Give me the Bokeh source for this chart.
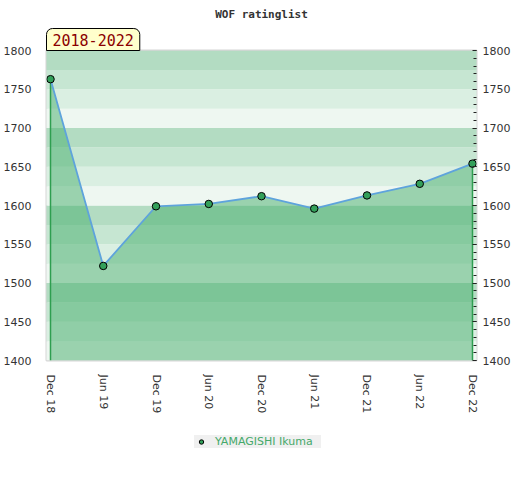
from bokeh.plotting import figure
from bokeh.layouts import column
from bokeh.models import (Title, Legend, LegendItem, FixedTicker, SingleIntervalTicker,
                          LinearAxis, Range1d)
from bokeh.embed import file_html
from bokeh.resources import INLINE

# ---- data ----
periods = ["Dec 18", "Jun 19", "Dec 19", "Jun 20", "Dec 20", "Jun 21", "Dec 21", "Jun 22", "Dec 22"]
ratings = [1763, 1522, 1599, 1602, 1612, 1596, 1613, 1628, 1654]
player = "YAMAGISHI Ikuma"
title_text = "WOF ratinglist"
span_text = "2018-2022"
band_bottoms = [1400, 1425, 1450, 1475, 1500, 1525, 1550, 1575,
                1600, 1625, 1650, 1675, 1700, 1725, 1750, 1775]
band_colors = ["#eef7f1", "#daefe2", "#c6e6d2", "#b3dcc2"] * 4
band_size = 25
y_min, y_max = 1400, 1800

xs = list(range(len(periods)))
point_style = dict(size=7.5, fill_color="#33a05a", line_color="black", line_width=1)

main_title = Title(text=title_text, align="center", standoff=11,
                   text_font="DejaVu Sans Mono", text_font_style="bold",
                   text_font_size="11px", text_color="#333333")

p = figure(frame_width=430, frame_height=310, output_backend="svg", toolbar_location=None,
           x_range=Range1d(-0.076, len(periods) - 1 + 0.076),
           y_range=Range1d(y_min, y_max), title=main_title,
           min_border_left=37, min_border_right=37, min_border_top=50, min_border_bottom=60)
p.background_fill_color = "white"
p.border_fill_color = "white"
p.outline_line_color = "#d6d6d6"
p.outline_line_width = 2
p.xgrid.grid_line_color = None
p.ygrid.grid_line_color = None

tab = Title(text=span_text, align="left", offset=0, standoff=0,
            text_font="DejaVu Sans Mono", text_font_size="15px", text_font_style="normal",
            text_color="#8b0000", background_fill_color="#ffffcc",
            border_line_color="black", border_line_width=1, padding=(6, 5),
            border_radius=dict(top_left=6, top_right=6, bottom_right=0, bottom_left=0))
p.add_layout(tab, "above")

# background bands
p.quad(left=-1, right=len(periods) + 1,
       bottom=band_bottoms, top=[b + band_size for b in band_bottoms],
       fill_color=band_colors, line_color=None)

# area
p.varea(x=xs, y1=[y_min] * len(xs), y2=ratings, fill_color="#46ad6b", fill_alpha=0.5)
p.segment(x0=[xs[0], xs[-1]], y0=[y_min, y_min], x1=[xs[0], xs[-1]], y1=[ratings[0], ratings[-1]],
          line_color="#2e9e50", line_width=1.5)
p.line(xs, ratings, line_color="#5ea3dc", line_width=1.8)
p.scatter(xs, ratings, **point_style)

# axes
p.xaxis.ticker = FixedTicker(ticks=xs)
p.xaxis.major_label_overrides = {i: s for i, s in enumerate(periods)}
p.xaxis.major_label_orientation = "vertical"
p.xaxis.major_tick_line_color = None
p.xaxis.minor_tick_line_color = None
p.xaxis.axis_line_color = None
p.xaxis.major_label_standoff = 8
p.xaxis.major_label_text_font = "DejaVu Sans"
p.xaxis.major_label_text_font_size = "11px"
p.xaxis.major_label_text_color = "#333333"

p.yaxis.ticker = SingleIntervalTicker(interval=50, num_minor_ticks=5)
p.yaxis.major_tick_line_color = None
p.yaxis.minor_tick_line_color = None
p.yaxis.axis_line_color = None
p.yaxis.major_label_standoff = 9
p.yaxis.major_label_text_font = "DejaVu Sans"
p.yaxis.major_label_text_font_size = "11px"
p.yaxis.major_label_text_color = "#333333"

ra = LinearAxis(ticker=SingleIntervalTicker(interval=50, num_minor_ticks=5))
ra.axis_line_color = None
ra.major_tick_in = 4
ra.major_tick_out = 0
ra.minor_tick_in = 3
ra.minor_tick_out = 0
ra.major_tick_line_color = "#222222"
ra.minor_tick_line_color = "#222222"
ra.major_label_standoff = 6
ra.major_label_text_font = "DejaVu Sans"
ra.major_label_text_font_size = "11px"
ra.major_label_text_color = "#333333"
p.add_layout(ra, "right")

# legend strip below the chart
lg = figure(frame_width=430, frame_height=40, output_backend="svg", toolbar_location=None,
            x_range=Range1d(0, 1), y_range=Range1d(0, 1),
            x_axis_location=None, y_axis_location=None,
            min_border_left=37, min_border_right=37, min_border_top=0, min_border_bottom=0)
lg.outline_line_color = None
lg.xgrid.grid_line_color = None
lg.ygrid.grid_line_color = None
lg.background_fill_color = "white"
lg.border_fill_color = "white"
dummy = lg.scatter([-5], [-5], **point_style)
legend = Legend(items=[LegendItem(label=player, renderers=[dummy])],
                location=(148, 12), orientation="horizontal",
                background_fill_color="#f0f0f0", background_fill_alpha=1,
                border_line_color=None, padding=6, glyph_width=14, glyph_height=11,
                label_height=11, label_width=106, label_standoff=7,
                label_text_font="DejaVu Sans", label_text_font_size="11px",
                label_text_color="#45a96a", margin=0)
lg.add_layout(legend)

open("out.html", "w").write(file_html(column(p, lg, spacing=0), INLINE))
